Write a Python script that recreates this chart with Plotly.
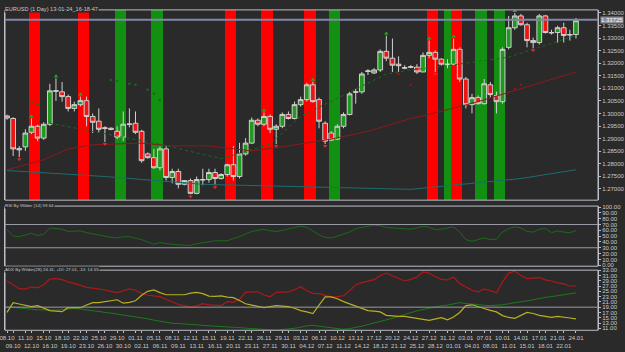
import plotly.graph_objects as go

# ---------------- data ----------------
dates = ["08.10","09.10","10.10","11.10","12.10","14.10","15.10","16.10","17.10","18.10",
         "19.10","21.10","22.10","23.10","24.10","25.10","26.10","28.10","29.10","30.10",
         "31.10","01.11","02.11","04.11","05.11","06.11","07.11","08.11","09.11","11.11",
         "12.11","13.11","14.11","15.11","16.11","18.11","19.11","20.11","21.11","22.11",
         "23.11","25.11","26.11","27.11","28.11","29.11","30.11","02.12","03.12","04.12",
         "05.12","06.12","07.12","09.12","10.12","11.12","12.12","13.12","14.12","16.12",
         "17.12","18.12","19.12","20.12","21.12","23.12","24.12","25.12","26.12","27.12",
         "28.12","30.12","31.12","01.01","02.01","03.01","04.01","06.01","07.01","08.01",
         "09.01","10.01","11.01","13.01","14.01","15.01","16.01","17.01","18.01","20.01",
         "21.01","22.01","23.01","24.01"]

opens = [1.2990,1.2980,1.2855,1.2867,1.2925,1.2949,1.2902,1.2957,1.3088,1.3086,
         1.3067,1.3020,1.3035,1.3051,1.2988,1.2969,1.2943,1.2941,1.2929,1.2906,
         1.2958,1.2961,1.2929,1.2839,1.2824,1.2784,1.2859,1.2745,1.2769,1.2718,
         1.2733,1.2682,1.2735,1.2737,1.2765,1.2741,1.2757,1.2796,1.2749,1.2839,
         1.2882,1.2973,1.2957,1.2988,1.2937,1.2949,1.2996,1.2980,1.3035,1.3055,
         1.3114,1.3055,1.2961,1.2922,1.2898,1.2949,1.2996,1.3084,1.3086,1.3167,
         1.3161,1.3173,1.3247,1.3220,1.3196,1.3180,1.3186,1.3184,1.3165,1.3231,
         1.3243,1.3216,1.3194,1.3196,1.3255,1.3137,1.3035,1.3063,1.3039,1.3114,
         1.3071,1.3047,1.3263,1.3341,1.3388,1.3353,1.3290,1.3282,1.3388,1.3320,
         1.3322,1.3341,1.3312,1.3314]
highs = [1.2995,1.2985,1.2870,1.2937,1.2980,1.2955,1.2965,1.3118,1.3140,1.3125,
         1.3075,1.3047,1.3067,1.3067,1.3000,1.3020,1.2949,1.2945,1.2949,1.3008,
         1.3020,1.3008,1.2935,1.2845,1.2859,1.2869,1.2871,1.2780,1.2780,1.2725,
         1.2741,1.2749,1.2780,1.2780,1.2780,1.2762,1.2800,1.2870,1.2883,1.2902,
         1.2984,1.2980,1.3004,1.2996,1.2957,1.3004,1.3008,1.3047,1.3067,1.3122,
         1.3126,1.3063,1.2969,1.2930,1.2957,1.3004,1.3086,1.3098,1.3165,1.3176,
         1.3180,1.3255,1.3310,1.3298,1.3227,1.3192,1.3192,1.3196,1.3243,1.3290,
         1.3251,1.3220,1.3216,1.3298,1.3263,1.3145,1.3078,1.3071,1.3137,1.3125,
         1.3087,1.3263,1.3388,1.3400,1.3396,1.3361,1.3302,1.3396,1.3392,1.3333,
         1.3349,1.3361,1.3333,1.3380]
lows = [1.2975,1.2831,1.2826,1.2851,1.2918,1.2890,1.2895,1.2950,1.3050,1.3047,
        1.3008,1.3008,1.3028,1.2949,1.2922,1.2925,1.2886,1.2933,1.2898,1.2890,
        1.2945,1.2918,1.2804,1.2820,1.2780,1.2773,1.2733,1.2722,1.2702,1.2714,
        1.2678,1.2678,1.2714,1.2725,1.2714,1.2737,1.2749,1.2733,1.2741,1.2832,
        1.2879,1.2949,1.2949,1.2922,1.2878,1.2941,1.2976,1.2976,1.3027,1.3047,
        1.3043,1.2941,1.2878,1.2890,1.2894,1.2941,1.2992,1.3039,1.3078,1.3153,
        1.3157,1.3165,1.3208,1.3165,1.3165,1.3176,1.3180,1.3157,1.3165,1.3220,
        1.3165,1.3190,1.3180,1.3192,1.3125,1.3020,1.3000,1.3035,1.3035,1.3063,
        1.3000,1.3039,1.3255,1.3333,1.3349,1.3263,1.3259,1.3274,1.3318,1.3314,
        1.3282,1.3282,1.3290,1.3298]
closes = [1.2982,1.2859,1.2860,1.2922,1.2949,1.2902,1.2957,1.3090,1.3090,1.3067,
          1.3020,1.3035,1.3051,1.2988,1.2965,1.2937,1.2941,1.2937,1.2906,1.2957,
          1.2957,1.2925,1.2812,1.2824,1.2784,1.2859,1.2745,1.2769,1.2718,1.2733,
          1.2682,1.2737,1.2737,1.2765,1.2741,1.2757,1.2796,1.2749,1.2839,1.2882,
          1.2973,1.2957,1.2988,1.2937,1.2949,1.2996,1.2980,1.3035,1.3055,1.3114,
          1.3047,1.2969,1.2890,1.2894,1.2949,1.2996,1.3078,1.3086,1.3157,1.3169,
          1.3173,1.3247,1.3220,1.3192,1.3190,1.3182,1.3184,1.3165,1.3231,1.3243,
          1.3216,1.3196,1.3196,1.3255,1.3137,1.3035,1.3063,1.3039,1.3118,1.3075,
          1.3047,1.3255,1.3341,1.3388,1.3353,1.3290,1.3282,1.3388,1.3322,1.3322,
          1.3341,1.3310,1.3314,1.3369]

# signal bands (bar centre, width in bars, colour key)
band_pos   = [4.5, 12.5, 18.5, 24.5, 36.5, 42.5, 49.5, 53.5, 69.5, 72.0, 73.5, 77.5, 80.5]
band_width = [1.85,1.85,1.85,1.85,1.85,1.85,1.85,1.85,1.85,1.0,1.85,1.85,1.85]
band_kind  = ["sell","sell","buy","buy","sell","sell","sell","buy","sell","buy","sell","buy","buy"]

# moving averages (bar index, value)
ma_red_idx = [0, 6, 10, 14, 22, 27, 33, 40, 46, 53, 59, 66, 69, 77, 85, 93]
ma_red_val = [1.2776,1.2816,1.2859,1.2875,1.2882,1.2871,1.2871,1.2851,1.2871,1.2898,
              1.2929,1.2980,1.2996,1.3047,1.3106,1.3165]
ma_teal_idx = [0, 16, 32, 48, 66, 76, 84, 93]
ma_teal_val = [1.2773,1.2749,1.2718,1.2710,1.2698,1.2722,1.2741,1.2776]
ma_green_idx = [7, 25, 35, 43, 48, 62, 66, 72, 82, 93]
ma_green_val = [1.2961,1.2878,1.2820,1.2878,1.2988,1.3157,1.3173,1.3190,1.3224,1.3310]

# stop-and-reverse dots (bar index, value)
sar_idx = [4, 5, 17, 18, 20, 21, 23, 24, 25, 64, 66, 83, 84]
sar_val = [1.3047,1.3035,1.3133,1.3129,1.3118,1.3114,1.3094,1.3078,1.3055,1.3157,1.3114,1.3098,1.3114]

frac_up = [4, 8, 12, 42, 50, 62, 69, 73, 83]
frac_dn = [2, 16, 30, 34, 44, 52, 70, 86]

current_price = 1.33725

rsi = [61,50,49,52,55,51,53,64,63,62,
       58,58,59,56,54,52,49,48,47,49,
       49,47,44,40,36,39,37,36,35,34,
       34,37,39,41,42,42,42,46,49,54,
       58,60,62,59,58,60,63,65,67,65,
       59,52,48,47,50,53,57,63,65,67,
       69,68,65,64,63,63,62,64,67,65,
       61,62,64,66,57,44,41,44,47,44,
       45,57,63,66,64,58,57,62,63,56,
       59,57,56,59.64]

plus_di = [28.9,27.4,26.0,25.8,26.7,26.3,27.5,29.6,29.8,29.4,
           28.5,28.0,27.3,26.5,26.2,25.9,25.5,25.0,24.5,25.2,
           25.9,25.4,24.2,23.5,23.3,23.0,22.0,20.9,20.0,19.6,
           19.0,19.5,20.3,19.9,19.8,19.6,21.1,20.8,22.0,24.6,
           24.8,24.8,23.6,22.9,24.6,24.8,24.8,25.6,26.7,25.2,
           24.2,24.1,23.5,22.9,23.0,23.3,25.2,27.5,28.3,28.9,
           29.4,31.0,31.9,30.9,29.8,28.9,29.5,30.4,32.3,31.9,
           30.6,29.5,29.3,30.4,27.8,26.6,25.4,24.8,25.9,25.2,
           24.4,28.6,31.9,32.6,31.0,29.8,30.0,30.2,29.3,28.9,
           28.2,27.8,27.0,27.01]
minus_di = [17.0,20.7,20.2,19.6,19.2,19.6,18.5,17.7,17.5,17.3,
            18.8,18.8,18.8,19.8,20.7,20.7,21.1,21.5,21.8,20.5,
            20.8,21.4,23.5,25.0,25.5,24.5,23.7,23.7,23.7,23.7,
            24.3,24.6,24.1,23.2,23.1,23.3,22.8,22.6,21.5,20.3,
            19.8,19.4,18.8,19.2,19.6,19.4,19.2,18.6,17.7,17.2,
            16.6,19.8,22.9,22.9,22.2,21.1,20.2,19.4,18.4,17.7,
            17.5,17.2,15.9,15.6,15.5,15.5,15.2,14.8,14.4,14.0,
            14.6,15.0,14.2,15.3,17.0,19.6,19.9,19.3,18.5,17.8,
            17.2,15.8,15.1,14.8,16.0,17.0,16.6,15.9,15.5,15.1,
            15.5,15.3,14.9,14.55]
adx = [19.2,18.9,18.6,18.4,18.2,18.0,17.9,17.8,17.9,18.1,
       18.3,18.5,18.3,18.0,17.8,17.5,17.1,16.7,16.4,16.0,
       15.7,15.3,15.0,14.6,14.1,13.7,13.3,12.9,12.8,12.7,
       12.5,12.3,12.1,11.9,11.7,11.6,11.5,11.4,11.2,11.0,
       10.8,10.6,10.5,10.4,10.3,10.5,10.8,11.0,11.4,11.9,
       12.1,11.8,11.5,11.0,10.8,10.6,10.9,11.3,11.8,12.4,
       13.0,13.6,14.2,14.7,15.4,16.2,17.0,17.6,18.1,18.6,
       19.0,19.5,19.8,20.2,20.7,20.4,20.1,19.9,19.7,19.6,
       19.7,19.9,20.3,20.6,21.0,21.4,21.8,22.3,22.7,23.0,
       23.4,23.8,24.1,24.41]

# x tick labels: two staggered rows
tick_top = ["08.10","11.10","15.10","18.10","22.10","25.10","29.10","01.11","05.11","08.11",
            "12.11","15.11","19.11","22.11","26.11","29.11","03.12","06.12","10.12","13.12",
            "17.12","20.12","24.12","27.12","31.12","03.01","07.01","10.01","14.01","17.01",
            "21.01","24.01"]
tick_bot = ["09.10","12.10","16.10","19.10","23.10","26.10","30.10","02.11","06.11","09.11",
            "13.11","16.11","20.11","23.11","27.11","30.11","04.12","07.12","11.12","14.12",
            "18.12","21.12","25.12","28.12","01.01","04.01","08.01","11.01","15.01","18.01",
            "22.01"]

price_ticks = [1.27 + 0.005 * k for k in range(15)]
rsi_ticks = list(range(0, 101, 10))
adx_ticks = list(range(11, 34, 2))
rsi_levels = [70, 30]
adx_levels = [19]

# ---------------- figure ----------------
BG = "#2a2a2a"
TXT = "#c8c8c8"
BORDER = "#bdbdc8"
FONT = "Liberation Sans"
n = len(closes)
xs = list(range(n))
P_LO, P_HI = 1.2655, 1.3412

fig = go.Figure()

band_colors = {"sell": "#ff0000", "buy": "#119011"}
fig.add_trace(go.Bar(x=band_pos, y=[P_HI - P_LO] * len(band_pos), base=P_LO,
                     width=band_width, marker=dict(color=[band_colors[k] for k in band_kind], line_width=0),
                     xaxis="x", yaxis="y", hoverinfo="skip", showlegend=False))

fig.add_trace(go.Scatter(x=ma_teal_idx, y=ma_teal_val, mode="lines",
                         line=dict(color="#1d6d6d", width=1), xaxis="x", yaxis="y", showlegend=False))
fig.add_trace(go.Scatter(x=ma_red_idx, y=ma_red_val, mode="lines",
                         line=dict(color="#8b1a1a", width=1), xaxis="x", yaxis="y", showlegend=False))
fig.add_trace(go.Scatter(x=ma_green_idx, y=ma_green_val, mode="lines",
                         line=dict(color="#1a6a1a", width=1, dash="dot"), xaxis="x", yaxis="y", showlegend=False))

sar_col = ["#1a6a1a" if v > closes[i] else "#a01010" for i, v in zip(sar_idx, sar_val)]
fig.add_trace(go.Scatter(x=sar_idx, y=sar_val, mode="markers",
                         marker=dict(size=2.5, color=sar_col), xaxis="x", yaxis="y", showlegend=False))

fig.add_trace(go.Candlestick(x=xs, open=opens, high=highs, low=lows, close=closes,
                             increasing=dict(line=dict(color="#d0d0d0", width=1), fillcolor="#1f9a1f"),
                             decreasing=dict(line=dict(color="#d0d0d0", width=1), fillcolor="#ee1515"),
                             whiskerwidth=0, xaxis="x", yaxis="y", showlegend=False))

fig.add_trace(go.Scatter(x=frac_up, y=[highs[i] + 0.0008 for i in frac_up], mode="markers",
                         marker=dict(symbol="triangle-up", size=4, color="#22aa22"),
                         xaxis="x", yaxis="y", showlegend=False))
fig.add_trace(go.Scatter(x=frac_dn, y=[lows[i] - 0.0008 for i in frac_dn], mode="markers",
                         marker=dict(symbol="triangle-down", size=4, color="#ee2222"),
                         xaxis="x", yaxis="y", showlegend=False))

fig.add_trace(go.Scatter(x=xs, y=rsi, mode="lines", line=dict(color="#1c6a1c", width=1),
                         xaxis="x", yaxis="y2", showlegend=False))

fig.add_trace(go.Scatter(x=xs, y=adx, mode="lines", line=dict(color="#1c7a1c", width=1),
                         xaxis="x", yaxis="y3", showlegend=False))
fig.add_trace(go.Scatter(x=xs, y=plus_di, mode="lines", line=dict(color="#b01818", width=1.2),
                         xaxis="x", yaxis="y3", showlegend=False))
fig.add_trace(go.Scatter(x=xs, y=minus_di, mode="lines", line=dict(color="#b8b020", width=1.2),
                         xaxis="x", yaxis="y3", showlegend=False))

# staggered x tick labels
idx_of = {d: i for i, d in enumerate(dates)}
tickvals = [idx_of[d] for d in tick_top] + [idx_of[d] for d in tick_bot]
ticktext = tick_top + ["<br>" + d for d in tick_bot]

D_MAIN = [1 - 200 / 352, 1 - 7 / 352]
D_RSI = [1 - 267 / 352, 1 - 206 / 352]
D_ADX = [1 - 332 / 352, 1 - 271 / 352]

axis_font = dict(family=FONT, size=6, color=TXT)
yax_common = dict(side="right", showgrid=False, zeroline=False, showline=True, linecolor=BORDER,
                  linewidth=1, mirror=True, ticks="outside", ticklen=2, tickcolor=BORDER,
                  tickfont=axis_font, fixedrange=True)

fig.update_layout(
    width=625, height=352, margin=dict(l=3, r=27, t=0, b=0),
    paper_bgcolor=BG, plot_bgcolor=BG, bargap=0, showlegend=False,
    boxgap=0.12, boxgroupgap=0.12,
    xaxis=dict(domain=[0, 1], anchor="y3", range=[-0.33, 96.6], showgrid=False, zeroline=False,
               rangeslider=dict(visible=False), tickmode="array", tickvals=tickvals, ticktext=ticktext,
               tickangle=0, tickfont=axis_font, ticks="outside", ticklen=2, tickcolor=BORDER,
               showline=False, ticklabeloverflow="allow"),
    yaxis=dict(domain=D_MAIN, range=[P_LO, P_HI], tickmode="array", tickvals=price_ticks,
               tickformat=".5f", **yax_common),
    yaxis2=dict(domain=D_RSI, range=[-1.7, 101.7], tickmode="array", tickvals=rsi_ticks,
                tickformat=".2f", anchor="x", **yax_common),
    yaxis3=dict(domain=D_ADX, range=[10.25, 33.0], tickmode="array", tickvals=adx_ticks,
                tickformat=".2f", anchor="x", **yax_common),
)

# panel frames
for ref in ["y", "y2", "y3"]:
    fig.add_shape(type="rect", xref="x domain", yref=ref + " domain", x0=0, x1=1, y0=0, y1=1,
                  line=dict(color=BORDER, width=1), layer="above")
for lv in rsi_levels:
    fig.add_shape(type="line", xref="x domain", yref="y2", x0=0, x1=1, y0=lv, y1=lv,
                  line=dict(color="#9a9aa6", width=1))
for lv in adx_levels:
    fig.add_shape(type="line", xref="x domain", yref="y3", x0=0, x1=1, y0=lv, y1=lv,
                  line=dict(color="#9a9aa6", width=1))
fig.add_shape(type="line", xref="x domain", yref="y", x0=0, x1=1, y0=current_price, y1=current_price,
              line=dict(color="#8088a8", width=2), layer="above")

titles = [("EURUSD (1 Day) 13-01-24_16-18-47", "y", 5.6),
          ("RSI By Wilder (14) 59.64", "y2", 4.4),
          ("ADX By Wilder(28) 24.41, +DI: 27.01, -DI: 14.55", "y3", 4.4)]
for txt, ref, fs in titles:
    fig.add_annotation(text=txt, xref="paper", yref=ref + " domain", x=0, y=1, xanchor="left",
                       yanchor="bottom", showarrow=False, font=dict(family=FONT, size=fs, color=TXT),
                       bgcolor=BG, borderpad=0, yshift=-3, xshift=-1)

fig.add_annotation(text=f"{current_price:.5f}", xref="paper", yref="y", x=1, y=current_price,
                   xanchor="left", yanchor="middle", showarrow=False, xshift=2,
                   font=dict(family=FONT, size=6, color="#ffffff"), bgcolor="#8a8a96", borderpad=0)

fig.write_html("out.html")
